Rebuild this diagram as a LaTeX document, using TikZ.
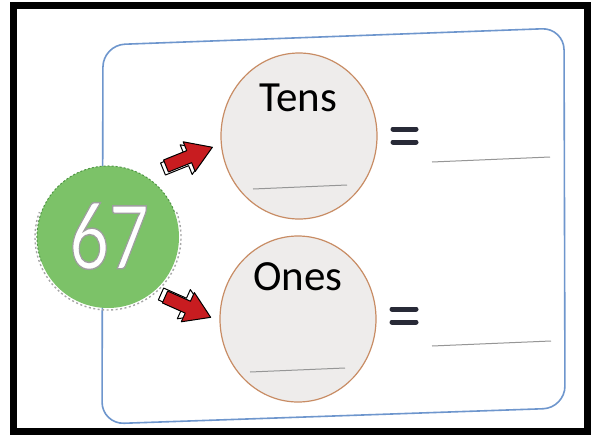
\documentclass[tikz,border=0pt]{standalone}
\usepackage{fontspec}
\setmainfont{Carlito}
\usetikzlibrary{shapes.geometric}
\definecolor{frameblue}{RGB}{110,150,205}
\definecolor{greenfill}{RGB}{124,194,104}
\definecolor{greendash}{RGB}{80,150,70}
\definecolor{circfill}{RGB}{238,236,235}
\definecolor{circedge}{RGB}{200,140,100}
\definecolor{eqcol}{RGB}{40,42,55}
\definecolor{arrred}{RGB}{200,28,32}
\definecolor{blankline}{RGB}{150,150,150}
\newcommand{\outlinedtext}[1]{\special{pdf:literal direct 0.62 0.62 0.62 RG 1 1 1 rg 2 Tr 1.4 w}#1\special{pdf:literal direct 0 Tr}}
\tikzset{
  partcircle/.style={ellipse, fill=circfill, draw=circedge, line width=1.2pt,
    minimum width=156pt, minimum height=166pt, inner sep=0pt},
  label/.style={font=\fontsize{43}{43}\selectfont, text=black, inner sep=0pt},
  eqbar/.style={line width=5pt, line cap=round, eqcol},
  blank/.style={line width=1pt, blankline},
  arrowbody/.pic={
    \filldraw[fill=#1, draw=black, line width=1pt, line join=round]
      (0,-6.5) -- (25,-6.5) -- (25,-16) -- (50,0) -- (25,16) -- (25,6.5) -- (0,6.5) -- cycle;
  },
}
\begin{document}
\begin{tikzpicture}[x=1pt, y=-1pt]
\useasboundingbox (0,0) rectangle (595,437);
\fill[white] (0,0) rectangle (595,437);
% outer black frame
\draw[line width=7pt] (13.5,5.5) rectangle (587.5,431.5);
% blue rounded frame
\draw[frameblue, line width=1.6pt, rounded corners=22pt]
  (103,45) -- (564,28) -- (565,408) -- (102,424) -- cycle;
% green number disc
\node[circle, fill=greenfill, minimum size=142pt, inner sep=0pt] (disc) at (108,237) {};
\draw[greendash, line width=1pt, dash pattern=on 2pt off 2pt] (108,237) ++(200:71pt) arc[start angle=200, end angle=20, radius=71pt];
\draw[gray!70, line width=1.4pt, dash pattern=on 2pt off 2.5pt] (108,237) ++(20:73pt) arc[start angle=20, end angle=-200, radius=73pt];
\node[inner sep=0pt, text=white, xscale=0.8, font=\fontsize{98}{98}\selectfont] (num) at (109,236) {\outlinedtext{67}};
% part circles
\node[partcircle] (tc) at (299,136) {};
\node[partcircle] (oc) at (298,319) {};
\node[label] (tens) at (298,97.5) {Tens};
\node[label] (ones) at (298,277) {Ones};
\coordinate (tl1) at (253,189); \coordinate (tl2) at (347,185);
\coordinate (ol1) at (250,372); \coordinate (ol2) at (345,368);
\draw[blank] (tl1) -- (tl2);
\draw[blank] (ol1) -- (ol2);
% equals signs and answer lines
\coordinate (e1a) at (393,129); \coordinate (e1b) at (416,129);
\coordinate (e1c) at (393,142); \coordinate (e1d) at (416,142);
\draw[eqbar] (e1a) -- (e1b); \draw[eqbar] (e1c) -- (e1d);
\coordinate (e2a) at (392,309); \coordinate (e2b) at (416,309);
\coordinate (e2c) at (392,322); \coordinate (e2d) at (416,322);
\draw[eqbar] (e2a) -- (e2b); \draw[eqbar] (e2c) -- (e2d);
\coordinate (a1a) at (432,162); \coordinate (a1b) at (550,157);
\coordinate (a2a) at (432,346); \coordinate (a2b) at (551,341);
\draw[blank] (a1a) -- (a1b);
\draw[blank] (a2a) -- (a2b);
% red block arrows
\pic[rotate=22] at (163,169) {arrowbody=white};
\pic[rotate=22] at (166,166) {arrowbody=arrred};
\pic[rotate=-24] at (161,294) {arrowbody=white};
\pic[rotate=-24] at (165,297) {arrowbody=arrred};
\end{tikzpicture}
\end{document}
